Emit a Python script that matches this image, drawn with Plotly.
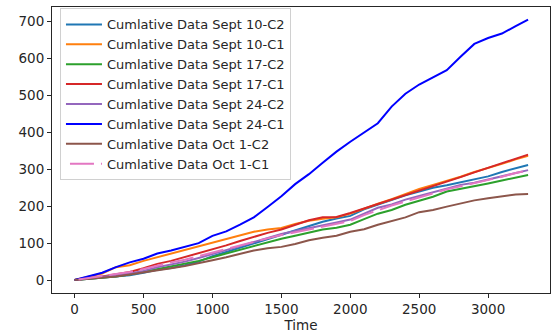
import plotly.graph_objects as go

time = [0, 100, 200, 300, 400, 500, 600, 700, 800, 900, 1000, 1100, 1200, 1300, 1400, 1500, 1600,
        1700, 1800, 1900, 2000, 2100, 2200, 2300, 2400, 2500, 2600, 2700, 2800, 2900, 3000, 3100,
        3200, 3290]

sept10_c2 = [0, 3, 6, 9, 13, 20, 28, 33, 40, 50, 65, 76, 88, 100, 111, 122, 134, 146, 158, 167,
             174, 192, 205, 217, 230, 240, 250, 257, 265, 273, 281, 293, 303, 312]
sept10_c1 = [0, 8, 18, 35, 40, 52, 62, 70, 82, 92, 100, 112, 122, 131, 137, 141, 152, 161, 166, 170,
             180, 194, 207, 219, 233, 247, 258, 268, 280, 293, 303, 315, 327, 337]
sept17_c2 = [0, 3, 6, 10, 15, 22, 30, 38, 45, 52, 62, 72, 84, 94, 104, 112, 120, 128, 137, 142,
             150, 165, 180, 190, 204, 215, 226, 240, 248, 254, 262, 270, 278, 285]
sept17_c1 = [0, 4, 10, 16, 22, 32, 44, 52, 62, 72, 82, 94, 106, 118, 128, 137, 150, 162, 170, 171,
             182, 194, 206, 217, 229, 242, 254, 266, 279, 292, 304, 317, 328, 340]
sept24_c2 = [0, 4, 8, 13, 18, 25, 35, 42, 50, 60, 70, 80, 92, 103, 114, 125, 133, 140, 148, 156,
             164, 180, 196, 205, 218, 228, 238, 250, 258, 264, 272, 282, 290, 298]
sept24_c1 = [0, 10, 20, 35, 48, 58, 72, 80, 90, 100, 120, 132, 150, 170, 198, 227, 260, 287, 318, 348,
             375, 400, 425, 470, 505, 530, 550, 569, 605, 640, 656, 668, 688, 706]
oct1_c2 = [0, 3, 6, 10, 15, 20, 26, 32, 38, 45, 54, 62, 72, 80, 86, 90, 98, 108, 115, 120,
           131, 138, 150, 160, 170, 184, 190, 199, 208, 216, 222, 228, 232, 233]
oct1_c1 = [0, 5, 10, 16, 22, 30, 40, 48, 55, 65, 75, 84, 95, 104, 113, 122, 130, 138, 145, 152,
           160, 176, 190, 202, 213, 224, 234, 246, 254, 262, 270, 280, 290, 297]

names = ["Cumlative Data Sept 10-C2", "Cumlative Data Sept 10-C1", "Cumlative Data Sept 17-C2",
         "Cumlative Data Sept 17-C1", "Cumlative Data Sept 24-C2", "Cumlative Data Sept 24-C1",
         "Cumlative Data Oct 1-C2", "Cumlative Data Oct 1-C1"]
series = [sept10_c2, sept10_c1, sept17_c2, sept17_c1, sept24_c2, sept24_c1, oct1_c2, oct1_c1]
colors = ["#1f77b4", "#ff7f0e", "#2ca02c", "#d62728", "#9467bd", "#0000ff", "#8c564b", "#e377c2"]

x_ticks = [0, 500, 1000, 1500, 2000, 2500, 3000]
y_ticks = [0, 100, 200, 300, 400, 500, 600, 700]

fig = go.Figure()
for name, vals, col in zip(names, series, colors):
    dash = "0px,4px,24px,3px" if name.endswith("Oct 1-C1") else "solid"
    fig.add_trace(go.Scatter(x=time, y=vals, mode="lines", name=name,
                             line=dict(color=col, width=2, dash=dash)))

font = dict(family="DejaVu Sans", size=13.5, color="#262626")
lfont = dict(family="DejaVu Sans", size=13, color="#262626")
fig.update_layout(
    width=555, height=335,
    margin=dict(l=52, r=5, t=7, b=42),
    paper_bgcolor="white", plot_bgcolor="white",
    font=font,
    showlegend=True,
    legend=dict(x=0.016, y=0.995, xanchor="left", yanchor="top",
                bgcolor="rgba(255,255,255,0.8)", bordercolor="#d0d0d0", borderwidth=1,
                font=lfont, tracegroupgap=0, itemwidth=36),
    xaxis=dict(range=[-164, 3449], tickvals=x_ticks, showgrid=False, zeroline=False,
               showline=True, mirror=True, linecolor="#262626", linewidth=1,
               ticks="outside", ticklen=4, tickcolor="#262626",
               title=dict(text="Time", font=font, standoff=3)),
    yaxis=dict(range=[-35, 740], tickvals=y_ticks, showgrid=False, zeroline=False,
               showline=True, mirror=True, linecolor="#262626", linewidth=1,
               ticks="outside", ticklen=4, tickcolor="#262626"),
)

fig.write_html("out.html")
